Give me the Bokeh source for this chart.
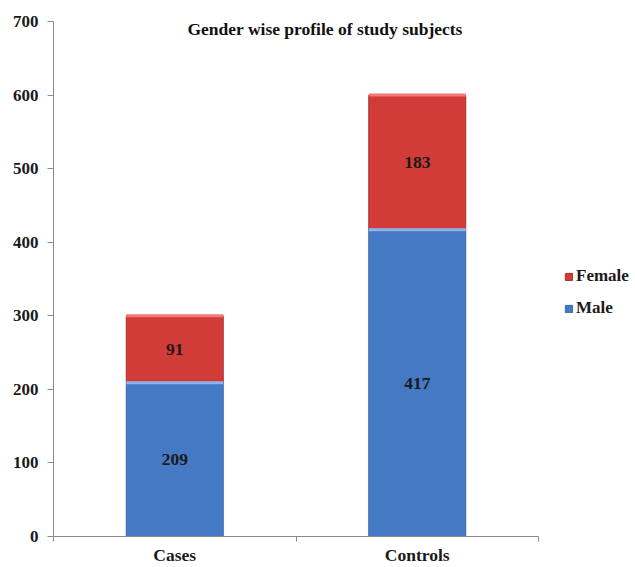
from bokeh.plotting import figure
from bokeh.models import Range1d, FixedTicker, ColumnDataSource, LabelSet, Legend, LegendItem, Label
from bokeh.embed import file_html
from bokeh.resources import INLINE

categories = ["Cases", "Controls"]
male = [209, 417]
female = [91, 183]
y_ticks = [0, 100, 200, 300, 400, 500, 600, 700]
title_text = "Gender wise profile of study subjects"

FONT = "Liberation Serif"
RED = "#D13B38"
BLUE = "#4479C4"

n = len(categories)
xs = [i + 0.5 for i in range(n)]
tot = [m + f for m, f in zip(male, female)]

# frame extends past the category area so the legend fits inside it; axis line bounded to categories
p = figure(width=635, height=567, output_backend="svg", toolbar_location=None,
           x_range=Range1d(0, n * 582 / 485), y_range=Range1d(0, 700),
           min_border_left=53, min_border_right=0, min_border_top=21, min_border_bottom=20)
p.outline_line_color = None
p.xgrid.visible = False
p.ygrid.visible = False
p.background_fill_color = "white"

src = ColumnDataSource(dict(x=xs, male=male, female=female, tot=tot,
                            mmid=[m / 2 for m in male],
                            fmid=[m + f / 2 for m, f in zip(male, female)],
                            mlab=[str(v) for v in male], flab=[str(v) for v in female]))

rm = p.vbar(x="x", bottom=0, top="male", width=0.4, source=src,
            fill_color=BLUE, line_color="#3A68A8", line_width=1)
rf = p.vbar(x="x", bottom="male", top="tot", width=0.4, source=src,
            fill_color=RED, line_color="#A83230", line_width=1)
# lighter bevel strip on top of segments
p.vbar(x="x", bottom="male", top="male", width=0.4, source=src, line_color="#8DB4E8", line_width=3)
p.vbar(x="x", bottom="tot", top="tot", width=0.4, source=src, line_color="#EE7A77", line_width=3)

for col, ycol in (("mlab", "mmid"), ("flab", "fmid")):
    p.add_layout(LabelSet(x="x", y=ycol, text=col, source=src, text_align="center",
                          text_baseline="middle", text_font=FONT, text_font_style="bold",
                          text_font_size="17.5px", text_color="#1a1a1a"))

p.add_layout(Label(x=1.12, y=690, text=title_text, text_align="center", text_baseline="middle",
                   text_font=FONT, text_font_style="bold", text_font_size="17.5px",
                   text_color="#111111"))

# y axis
p.yaxis.ticker = FixedTicker(ticks=y_ticks)
p.yaxis.minor_tick_line_color = None
p.yaxis.major_tick_in = 0
p.yaxis.major_tick_out = 6
p.yaxis.axis_line_color = "#8a8a8a"
p.yaxis.major_tick_line_color = "#8a8a8a"
p.yaxis.major_label_text_font = FONT
p.yaxis.major_label_text_font_style = "bold"
p.yaxis.major_label_text_font_size = "17px"
p.yaxis.major_label_text_color = "#1a1a1a"
p.yaxis.major_label_standoff = 9

# x axis
p.xaxis.bounds = (0, n)
p.xaxis.ticker = FixedTicker(ticks=xs, minor_ticks=list(range(n + 1)))
p.xaxis.major_label_overrides = {x: c for x, c in zip(xs, categories)}
p.xaxis.major_tick_line_color = None
p.xaxis.major_tick_out = 0
p.xaxis.major_tick_in = 0
p.xaxis.minor_tick_in = 0
p.xaxis.minor_tick_out = 5
p.xaxis.minor_tick_line_color = "#8a8a8a"
p.xaxis.axis_line_color = "#8a8a8a"
p.xaxis.major_label_text_font = FONT
p.xaxis.major_label_text_font_style = "bold"
p.xaxis.major_label_text_font_size = "17.5px"
p.xaxis.major_label_text_color = "#1a1a1a"
p.xaxis.major_label_standoff = 3

legend = Legend(items=[LegendItem(label="Female", renderers=[rf]),
                       LegendItem(label="Male", renderers=[rm])],
                location=(511, 218), glyph_width=9, glyph_height=9, label_standoff=3,
                spacing=12, padding=0, margin=0, border_line_color=None,
                background_fill_alpha=0, label_text_font=FONT, label_text_font_style="bold",
                label_text_font_size="17px", label_text_color="#1a1a1a")
p.add_layout(legend)

open("out.html", "w").write(file_html(p, INLINE))
